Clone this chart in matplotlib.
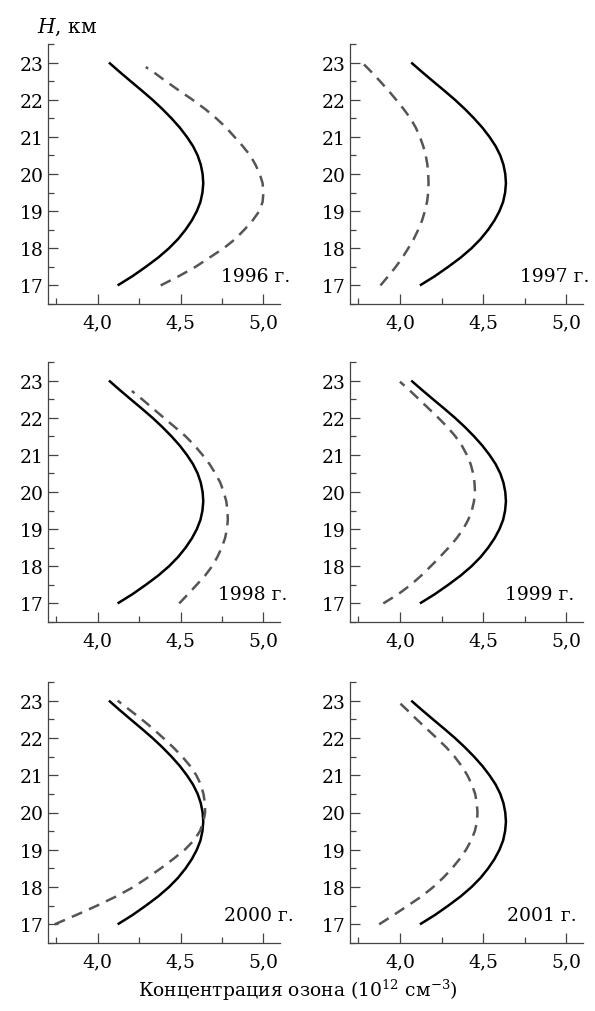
import numpy as np
import matplotlib.pyplot as plt
from matplotlib.ticker import MultipleLocator, FuncFormatter

plt.rcParams['font.family'] = ['DejaVu Serif']
plt.rcParams['mathtext.fontset'] = 'dejavuserif'

# heights, km
h = [17.0, 17.25, 17.5, 17.75, 18.0, 18.25, 18.5, 18.75, 19.0, 19.25, 19.5, 19.75,
     20.0, 20.25, 20.5, 20.75, 21.0, 21.25, 21.5, 21.75, 22.0, 22.25, 22.5, 22.75, 23.0]

# reference profile (solid), same in every panel
c_ref = [4.12, 4.21, 4.29, 4.365, 4.43, 4.485, 4.53, 4.568, 4.598, 4.62, 4.632, 4.637,
         4.633, 4.622, 4.603, 4.575, 4.538, 4.495, 4.445, 4.39, 4.33, 4.265, 4.198, 4.132, 4.068]

years = ['1996 г.', '1997 г.', '1998 г.', '1999 г.', '2000 г.', '2001 г.']

# top end of each dashed curve (km)
top_h = [22.88, 22.96, 22.72, 22.97, 23.0, 23.0]

c_1996 = [4.38, 4.49, 4.59, 4.675, 4.76, 4.83, 4.885, 4.935, 4.975, 4.995, 5.0, 4.995,
          4.978, 4.952, 4.92, 4.875, 4.825, 4.775, 4.715, 4.648, 4.572, 4.49, 4.41, 4.335, 4.29]
c_1997 = [3.883, 3.93, 3.975, 4.015, 4.05, 4.083, 4.11, 4.133, 4.15, 4.163, 4.17, 4.172,
          4.17, 4.165, 4.155, 4.14, 4.12, 4.095, 4.063, 4.022, 3.977, 3.93, 3.88, 3.828, 3.782]
c_1998 = [4.492, 4.545, 4.597, 4.648, 4.69, 4.722, 4.748, 4.768, 4.78, 4.785, 4.783, 4.776,
          4.76, 4.74, 4.71, 4.675, 4.632, 4.585, 4.53, 4.465, 4.398, 4.333, 4.267, 4.206]
c_1999 = [3.90, 3.99, 4.065, 4.128, 4.185, 4.24, 4.292, 4.34, 4.38, 4.41, 4.432, 4.445,
          4.451, 4.448, 4.44, 4.425, 4.402, 4.372, 4.333, 4.285, 4.23, 4.172, 4.114, 4.055, 4.0]
c_2000 = [3.74, 3.87, 3.995, 4.112, 4.215, 4.30, 4.38, 4.455, 4.525, 4.58, 4.617, 4.638,
          4.648, 4.647, 4.638, 4.622, 4.595, 4.557, 4.51, 4.455, 4.395, 4.333, 4.265, 4.193, 4.12]
c_2001 = [3.875, 3.962, 4.047, 4.13, 4.2, 4.26, 4.313, 4.358, 4.397, 4.428, 4.45, 4.463,
          4.466, 4.462, 4.452, 4.432, 4.405, 4.37, 4.328, 4.278, 4.22, 4.16, 4.1, 4.043, 3.984]
dashed = [c_1996, c_1997, c_1998, c_1999, c_2000, c_2001]

xticks = [4.0, 4.5, 5.0]
yticks = [17, 18, 19, 20, 21, 22, 23]

label_x = [5.16, 5.14, 5.145, 5.05, 5.18, 5.06]

fig = plt.figure(figsize=(5.95, 10.12), dpi=100)
W, H = 595, 1012
cols = [(48, 280), (350, 583)]
rows = [(45, 305), (363, 623), (683, 944)]

spine_col = '#444444'
fs = 13.5

for i, year in enumerate(years):
    r, c = divmod(i, 2)
    x0, x1 = cols[c]
    y0, y1 = rows[r]
    ax = fig.add_axes([x0 / W, 1 - y1 / H, (x1 - x0) / W, (y1 - y0) / H])
    ax.plot(c_ref, h, color='black', lw=1.8, solid_capstyle='butt')
    hh = [v for v in h if v < top_h[i]] + [top_h[i]]
    ax.plot(dashed[i], hh, color='#555555', lw=1.8, dashes=(4.5, 3.0))
    ax.set_xlim(3.70, 5.10)
    ax.set_ylim(16.5, 23.5)
    for s in ['top', 'right']:
        ax.spines[s].set_visible(False)
    for s in ['left', 'bottom']:
        ax.spines[s].set_color(spine_col)
        ax.spines[s].set_linewidth(0.9)
    ax.set_xticks(xticks)
    ax.set_yticks(yticks)
    ax.xaxis.set_minor_locator(MultipleLocator(0.25))
    ax.yaxis.set_minor_locator(MultipleLocator(0.5))
    ax.xaxis.set_major_formatter(FuncFormatter(lambda v, p: f'{v:.1f}'.replace('.', ',')))
    ax.tick_params(which='major', direction='in', length=7, width=0.9,
                   color=spine_col, labelsize=fs)
    ax.tick_params(which='minor', direction='in', length=4, width=0.9, color=spine_col)
    ax.tick_params(axis='x', which='major', pad=7)
    ax.tick_params(axis='y', which='major', pad=3)
    ax.text(label_x[i], 17.25, year, ha='right', va='center', fontsize=fs, clip_on=False)

fig.text(37 / W, 1 - 27 / H, '$H$, км', ha='left', va='center', fontsize=14.5)
fig.text(0.5, 1 - 990 / H, 'Концентрация озона (10$^{12}$ см$^{-3}$)',
         ha='center', va='center', fontsize=fs)

fig.savefig('out.png', dpi=100)
